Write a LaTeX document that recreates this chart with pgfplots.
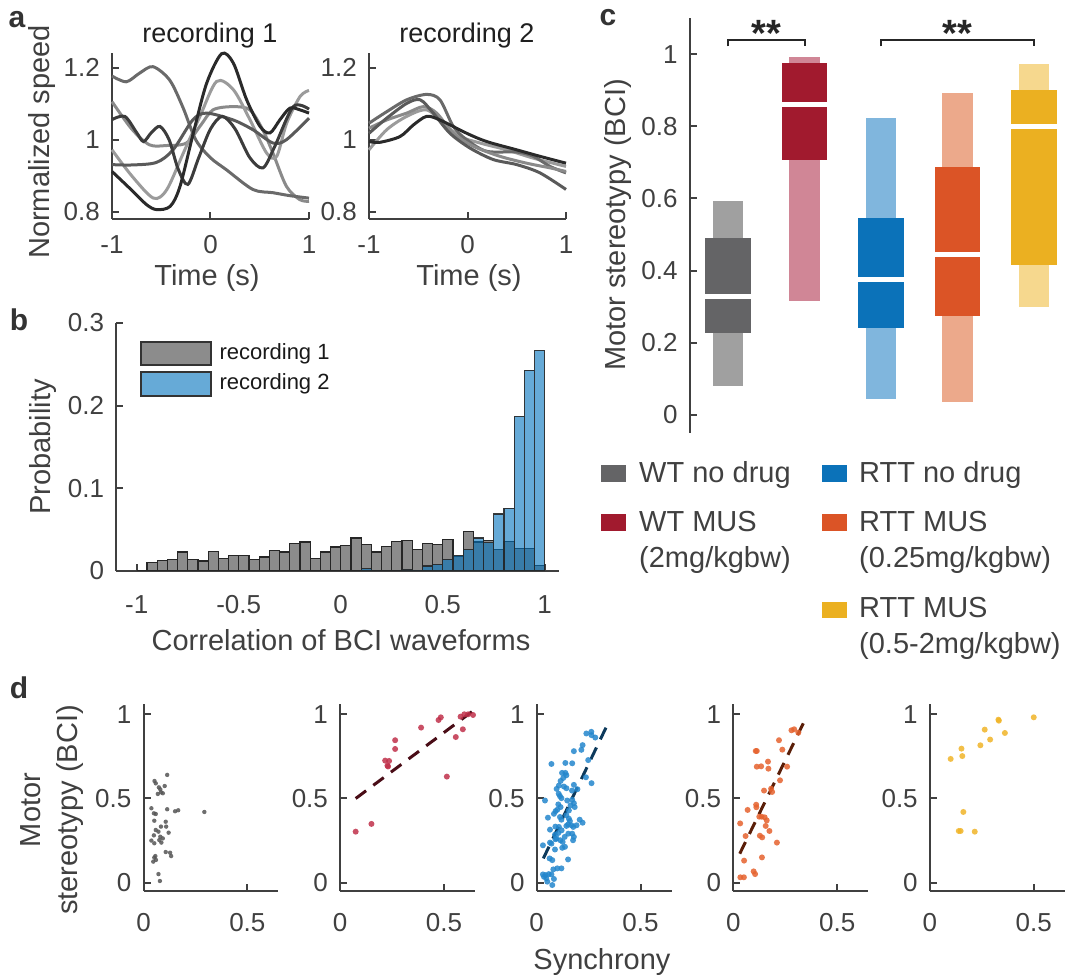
\documentclass[border=0pt]{standalone}
\usepackage{pgfplots}
\pgfplotsset{compat=1.18}
\usepackage{fontspec}
\setmainfont{Liberation Sans}

\definecolor{axgray}{HTML}{404040}
\definecolor{titlec}{HTML}{1F1F1F}
\definecolor{histgray}{HTML}{8C8C8C}
\definecolor{histblue}{HTML}{0072BD}
\definecolor{WTd}{HTML}{646466}\definecolor{WTl}{HTML}{A0A0A0}
\definecolor{WMd}{HTML}{A11A2E}\definecolor{WMl}{HTML}{D08696}
\definecolor{RNd}{HTML}{0B72B9}\definecolor{RNl}{HTML}{80B6DD}
\definecolor{RAd}{HTML}{DB5426}\definecolor{RAl}{HTML}{ECA98B}
\definecolor{RBd}{HTML}{EBB021}\definecolor{RBl}{HTML}{F6D88E}
\definecolor{sgray}{HTML}{555555}
\definecolor{sred}{HTML}{C0304A}
\definecolor{sblue}{HTML}{2386CC}
\definecolor{sorange}{HTML}{E5622E}
\definecolor{syellow}{HTML}{F0B428}
\definecolor{lred}{HTML}{4A0D17}
\definecolor{lblue}{HTML}{0D3A5C}
\definecolor{lorange}{HTML}{5A1E08}
\definecolor{gA}{HTML}{6A6A6A}\definecolor{gB}{HTML}{2A2A2A}
\definecolor{gC}{HTML}{9B9B9B}\definecolor{gD}{HTML}{8A8A8A}
\definecolor{gE}{HTML}{3C3C3C}\definecolor{gF}{HTML}{5A5A5A}

\newcommand{\tickfont}{\fontsize{26}{30}\selectfont}
\newcommand{\labfont}{\fontsize{29}{37}\selectfont}
\newcommand{\panfont}{\fontsize{30}{30}\selectfont\bfseries}

\pgfplotsset{
  base/.style={
    scale only axis, axis lines*=left,
    axis line style={-, draw=axgray, line width=2pt},
    tick style={draw=axgray, line width=2pt},
    tick align=inside, major tick length=7pt,
    enlargelimits=false,
    tick label style={font=\tickfont, text=axgray, inner sep=0pt},
    yticklabel style={anchor=east, xshift=-12pt},
    xticklabel style={anchor=north},
    anchor=south west,
  },
  pd/.style={base, width=135pt, height=186.9pt, xmin=0, xmax=0.65, ymin=-0.05, ymax=1.06,
    xtick={0,0.5}, xticklabels={0,0.5}, ytick={0,0.5,1}, yticklabels={0,0.5,1},
    xticklabel style={yshift=-22pt}, clip=false},
  dots/.style={only marks, color=#1, mark=*, mark size=3pt, mark options={draw opacity=0, fill=#1, fill opacity=0.85, line width=0pt}},
  fitl/.style={line width=3pt, color=#1, dash pattern=on 13pt off 9pt},
  spd/.style={smooth, line width=3pt, color=#1},
}

\begin{document}
\begin{tikzpicture}[x=1pt,y=1pt]
\path[use as bounding box] (0,0) rectangle (1069,980);

% ---------------- panel a, recording 1
\begin{axis}[base, at={(112pt,761pt)}, width=197pt, height=166pt,
  xmin=-1, xmax=1, ymin=0.78, ymax=1.241,
  xtick={-1,0,1}, xticklabels={-1,0,1}, ytick={0.8,1,1.2}, yticklabels={0.8,1,1.2},
  xticklabel style={yshift=-16pt}, clip=false]
\addplot[spd=gD] coordinates {(-1,1.106) (-0.8,1.03) (-0.62,0.986) (-0.45,0.984) (-0.245,0.991) (-0.1,1.04) (0.025,1.083) (0.228,1.092) (0.4,1.083) (0.53,1.028) (0.634,0.963) (0.77,0.871) (0.905,0.834) (1,0.829)};
\addplot[spd=gC] coordinates {(-1,0.972) (-0.8,0.9) (-0.58,0.838) (-0.445,0.861) (-0.276,0.963) (-0.107,1.065) (0.062,1.162) (0.232,1.139) (0.40,1.056) (0.57,0.963) (0.672,0.954) (0.773,1.046) (0.909,1.12) (1,1.137)};
\addplot[spd=gA] coordinates {(-1,1.177) (-0.855,1.161) (-0.72,1.185) (-0.584,1.203) (-0.415,1.166) (-0.28,1.09) (-0.15,1.0) (0,0.95) (0.16,0.917) (0.43,0.862) (0.634,0.853) (0.8,0.845) (1,0.838)};
\addplot[spd=gF] coordinates {(-1,0.931) (-0.8,0.93) (-0.55,0.937) (-0.38,0.972) (-0.18,1.055) (-0.04,1.074) (0.23,1.055) (0.43,1.028) (0.634,0.991) (0.77,1.0) (1,1.06)};
\addplot[spd=gE] coordinates {(-1,1.056) (-0.87,1.065) (-0.75,1.02) (-0.68,0.995) (-0.6,1.02) (-0.513,1.037) (-0.42,1.0) (-0.33,0.92) (-0.23,0.876) (-0.12,0.95) (0,1.03) (0.12,1.065) (0.25,1.03) (0.4,0.95) (0.533,0.922) (0.65,0.98) (0.84,1.092) (1,1.085)};
\addplot[spd=gB] coordinates {(-1,0.912) (-0.8,0.86) (-0.65,0.82) (-0.547,0.806) (-0.41,0.815) (-0.31,0.87) (-0.174,1.019) (-0.039,1.157) (0.113,1.239) (0.232,1.213) (0.367,1.111) (0.503,1.037) (0.604,1.019) (0.706,1.056) (0.807,1.088) (0.909,1.083) (1,1.074)};
\end{axis}

% ---------------- panel a, recording 2
\begin{axis}[base, at={(369pt,761pt)}, width=197pt, height=166pt,
  xmin=-1, xmax=1, ymin=0.78, ymax=1.241,
  xtick={-1,0,1}, xticklabels={-1,0,1}, ytick={0.8,1,1.2}, yticklabels={0.8,1,1.2},
  xticklabel style={yshift=-16pt}, clip=false]
\addplot[spd=gC] coordinates {(-1,0.972) (-0.82,1.028) (-0.617,1.065) (-0.415,1.083) (-0.245,1.046) (-0.076,1.009) (0.127,0.991) (0.398,0.972) (0.668,0.949) (1,0.926)};
\addplot[spd=gA] coordinates {(-1,1.046) (-0.82,1.078) (-0.617,1.111) (-0.415,1.126) (-0.28,1.111) (-0.144,1.037) (-0.008,1.0) (0.195,0.968) (0.5,0.966) (0.668,0.954) (0.838,0.926) (1,0.908)};
\addplot[spd=gD] coordinates {(-1,1.032) (-0.82,1.055) (-0.617,1.074) (-0.448,1.092) (-0.313,1.074) (-0.144,1.018) (0.059,0.982) (0.33,0.954) (0.6,0.935) (0.838,0.922) (1,0.912)};
\addplot[spd=gF] coordinates {(-1,1.018) (-0.82,1.06) (-0.617,1.101) (-0.48,1.111) (-0.347,1.074) (-0.178,1.018) (0.025,0.977) (0.262,0.945) (0.5,0.931) (0.736,0.908) (1,0.862)};
\addplot[spd=gB] coordinates {(-1,0.995) (-0.888,0.993) (-0.685,1.009) (-0.55,1.041) (-0.415,1.065) (-0.28,1.055) (-0.008,1.018) (0.195,0.995) (0.5,0.972) (0.736,0.954) (1,0.935)};
\end{axis}

% ---------------- panel b
\begin{axis}[base, at={(116.3pt,409pt)}, width=442.7pt, height=248pt,
  xmin=-1.1, xmax=1.07, ymin=0, ymax=0.3,
  xtick={-1,-0.5,0,0.5,1}, xticklabels={-1,-0.5,0,0.5,1},
  ytick={0,0.1,0.2,0.3}, yticklabels={0,0.1,0.2,0.3},
  xticklabel style={yshift=-24pt}]
\addplot[ybar interval, fill=histgray, draw=black!85, line width=1.2pt] table[row sep=\\] {
x y\\ -1.00 0\\ -0.95 0.010\\ -0.90 0.013\\ -0.85 0.014\\ -0.80 0.023\\ -0.75 0.014\\ -0.70 0.012\\ -0.65 0.024\\ -0.60 0.015\\ -0.55 0.0185\\ -0.50 0.0185\\ -0.45 0.014\\ -0.40 0.017\\ -0.35 0.025\\ -0.30 0.023\\ -0.25 0.033\\ -0.20 0.035\\ -0.15 0.015\\ -0.10 0.023\\ -0.05 0.029\\ 0.00 0.031\\ 0.05 0.040\\ 0.10 0.032\\ 0.15 0.023\\ 0.20 0.030\\ 0.25 0.036\\ 0.30 0.037\\ 0.35 0.026\\ 0.40 0.033\\ 0.45 0.032\\ 0.50 0.038\\ 0.55 0.018\\ 0.60 0.048\\ 0.65 0.035\\ 0.70 0.037\\ 0.75 0.026\\ 0.80 0.036\\ 0.85 0.027\\ 0.90 0.027\\ 0.95 0.007\\ 1.00 0\\
};
\addplot[ybar interval, fill=histblue, fill opacity=0.6, draw=black!85, draw opacity=0.9, line width=1.2pt] table[row sep=\\] {
x y\\ 0.10 0.003\\ 0.15 0\\ 0.20 0\\ 0.25 0\\ 0.30 0.002\\ 0.35 0.001\\ 0.40 0.006\\ 0.45 0.008\\ 0.50 0.014\\ 0.55 0.019\\ 0.60 0.026\\ 0.65 0.040\\ 0.70 0.034\\ 0.75 0.069\\ 0.80 0.076\\ 0.85 0.187\\ 0.90 0.243\\ 0.95 0.267\\ 1.00 0\\
};
\end{axis}

% ---------------- panel c
\begin{axis}[base, axis x line=none, axis y line*=left, at={(689.75pt,547pt)}, width=382.5pt, height=415pt,
  xmin=0.5, xmax=5.5, ymin=-0.05, ymax=1.1,
  ytick={0,0.2,0.4,0.6,0.8,1}, yticklabels={0,0.2,0.4,0.6,0.8,1}, clip=false]
% WT no drug
\addplot[fill=WTl, draw=none] coordinates {(0.8,0.081) (1.2,0.081) (1.2,0.593) (0.8,0.593)};
\addplot[fill=WTd, draw=none] coordinates {(0.7,0.228) (1.3,0.228) (1.3,0.491) (0.7,0.491)};
\addplot[white, line width=5pt] coordinates {(0.7,0.329) (1.3,0.329)};
% WT MUS
\addplot[fill=WMl, draw=none] coordinates {(1.8,0.316) (2.2,0.316) (2.2,0.993) (1.8,0.993)};
\addplot[fill=WMd, draw=none] coordinates {(1.7,0.707) (2.3,0.707) (2.3,0.976) (1.7,0.976)};
\addplot[white, line width=5pt] coordinates {(1.7,0.859) (2.3,0.859)};
% RTT no drug
\addplot[fill=RNl, draw=none] coordinates {(2.8,0.043) (3.2,0.043) (3.2,0.823) (2.8,0.823)};
\addplot[fill=RNd, draw=none] coordinates {(2.7,0.242) (3.3,0.242) (3.3,0.546) (2.7,0.546)};
\addplot[white, line width=5pt] coordinates {(2.7,0.376) (3.3,0.376)};
% RTT MUS 0.25
\addplot[fill=RAl, draw=none] coordinates {(3.8,0.037) (4.2,0.037) (4.2,0.893) (3.8,0.893)};
\addplot[fill=RAd, draw=none] coordinates {(3.7,0.275) (4.3,0.275) (4.3,0.688) (3.7,0.688)};
\addplot[white, line width=5pt] coordinates {(3.7,0.445) (4.3,0.445)};
% RTT MUS 0.5-2
\addplot[fill=RBl, draw=none] coordinates {(4.8,0.300) (5.2,0.300) (5.2,0.973) (4.8,0.973)};
\addplot[fill=RBd, draw=none] coordinates {(4.7,0.416) (5.3,0.416) (5.3,0.901) (4.7,0.901)};
\addplot[white, line width=5pt] coordinates {(4.7,0.800) (5.3,0.800)};
% significance
\addplot[color=black!85, line width=2pt] coordinates {(1,1.021) (1,1.038) (2,1.038) (2,1.021)};
\addplot[color=black!85, line width=2pt] coordinates {(3,1.021) (3,1.038) (5,1.038) (5,1.021)};
\node[font=\fontsize{38}{38}\selectfont\bfseries, text=black!85, anchor=base] at (axis cs:1.5,1.02) {**};
\node[font=\fontsize{38}{38}\selectfont\bfseries, text=black!85, anchor=base] at (axis cs:4,1.02) {**};
\end{axis}

% ---------------- panel d
\begin{axis}[pd, at={(143.5pt,88.9pt)}]
\addplot[dots=sgray, mark size=2.2pt] coordinates {(0.114,0.640) (0.053,0.604) (0.059,0.590) (0.102,0.574) (0.074,0.566) (0.081,0.554) (0.069,0.527) (0.084,0.537) (0.093,0.531) (0.038,0.442) (0.114,0.436) (0.152,0.424) (0.167,0.430) (0.293,0.420) (0.059,0.408) (0.050,0.412) (0.052,0.368) (0.107,0.362) (0.084,0.333) (0.109,0.333) (0.059,0.313) (0.072,0.303) (0.121,0.297) (0.050,0.281) (0.081,0.273) (0.093,0.263) (0.038,0.250) (0.052,0.234) (0.086,0.238) (0.076,0.253) (0.107,0.182) (0.128,0.178) (0.133,0.158) (0.057,0.158) (0.052,0.149) (0.047,0.125) (0.060,0.135) (0.072,0.051) (0.079,0.010)};
\end{axis}
\begin{axis}[pd, at={(340.1pt,88.9pt)}]
\addplot[fitl=lred] coordinates {(0.075,0.5) (0.645,1.025)};
\addplot[dots=sred] coordinates {(0.075,0.303) (0.151,0.349) (0.217,0.725) (0.236,0.723) (0.228,0.695) (0.231,0.690) (0.265,0.846) (0.265,0.794) (0.39,0.921) (0.474,0.966) (0.485,0.982) (0.514,0.630) (0.557,0.865) (0.58,0.986) (0.598,1.0) (0.591,0.911) (0.616,1.0) (0.64,0.996)};
\end{axis}
\begin{axis}[pd, at={(536.7pt,88.9pt)}]
\addplot[dots=sblue] coordinates {(0.239,0.886) (0.263,0.896) (0.264,0.876) (0.282,0.862) (0.221,0.817) (0.215,0.789) (0.179,0.781) (0.248,0.728) (0.071,0.705) (0.138,0.711) (0.171,0.709) (0.122,0.652) (0.138,0.652) (0.143,0.638) (0.237,0.626) (0.115,0.604) (0.264,0.591) (0.131,0.571) (0.143,0.561) (0.179,0.581) (0.096,0.557) (0.170,0.547) (0.106,0.528) (0.112,0.514) (0.119,0.502) (0.040,0.488) (0.147,0.488) (0.171,0.492) (0.179,0.472) (0.104,0.465) (0.115,0.449) (0.183,0.449) (0.163,0.459) (0.091,0.425) (0.083,0.409) (0.099,0.433) (0.155,0.429) (0.143,0.400) (0.054,0.386) (0.112,0.390) (0.119,0.374) (0.155,0.380) (0.160,0.366) (0.151,0.346) (0.207,0.374) (0.221,0.356) (0.192,0.341) (0.090,0.333) (0.107,0.331) (0.167,0.341) (0.176,0.331) (0.143,0.337) (0.120,0.311) (0.104,0.295) (0.088,0.285) (0.152,0.291) (0.171,0.291) (0.135,0.272) (0.096,0.262) (0.114,0.252) (0.125,0.242) (0.090,0.258) (0.179,0.272) (0.175,0.252) (0.123,0.207) (0.136,0.213) (0.030,0.222) (0.071,0.232) (0.064,0.238) (0.088,0.197) (0.062,0.144) (0.075,0.134) (0.151,0.138) (0.080,0.079) (0.099,0.085) (0.119,0.085) (0.030,0.049) (0.043,0.045) (0.058,0.051) (0.071,0.049) (0.051,0.006) (0.046,0.026) (0.083,0.022) (0.075,-0.014) (0.035,0.035) (0.107,0.577) (0.128,0.622) (0.196,0.555) (0.064,0.315)};
\addplot[fitl=lblue] coordinates {(0.032,0.144) (0.343,0.945)};
\end{axis}
\begin{axis}[pd, at={(733.3pt,88.9pt)}]
\addplot[dots=sorange] coordinates {(0.034,0.032) (0.051,0.032) (0.052,0.131) (0.033,0.352) (0.059,0.277) (0.069,0.432) (0.098,0.067) (0.105,0.051) (0.108,0.782) (0.113,0.782) (0.113,0.689) (0.134,0.691) (0.110,0.463) (0.111,0.448) (0.125,0.392) (0.136,0.392) (0.151,0.388) (0.128,0.279) (0.139,0.269) (0.138,0.150) (0.148,0.547) (0.156,0.337) (0.161,0.370) (0.167,0.719) (0.169,0.677) (0.174,0.307) (0.182,0.558) (0.187,0.539) (0.210,0.238) (0.220,0.846) (0.225,0.608) (0.236,0.790) (0.259,0.689) (0.280,0.905) (0.293,0.911) (0.313,0.891)};
\addplot[fitl=lorange] coordinates {(0.031,0.172) (0.352,0.984)};
\end{axis}
\begin{axis}[pd, at={(929.9pt,88.9pt)}]
\addplot[dots=syellow] coordinates {(0.100,0.735) (0.152,0.796) (0.156,0.752) (0.161,0.420) (0.139,0.307) (0.148,0.307) (0.216,0.303) (0.243,0.816) (0.264,0.909) (0.290,0.850) (0.330,0.968) (0.332,0.962) (0.361,0.889) (0.500,0.982)};
\end{axis}

% ---------------- text
\node[font=\panfont, text=black!80] at (17,960) {a};
\node[font=\panfont, text=black!80] at (19,660) {b};
\node[font=\panfont, text=black!80] at (608,962) {c};
\node[font=\panfont, text=black!80] at (19,292) {d};

\node[font=\fontsize{27}{30}\selectfont, text=titlec] at (210,944) {recording 1};
\node[font=\fontsize{27}{30}\selectfont, text=titlec] at (467,944) {recording 2};
\node[font=\labfont, text=axgray, rotate=90] at (42.5,838) {Normalized speed};
\node[font=\labfont, text=axgray] at (207,702) {Time (s)};
\node[font=\labfont, text=axgray] at (469,702) {Time (s)};

\node[font=\labfont, text=axgray, rotate=90] at (43,533) {Probability};
\node[font=\labfont, text=axgray] at (341,340) {Correlation of BCI waveforms};
\filldraw[fill=histgray, draw=black!80, line width=1.2pt] (141,615) rectangle (211,638);
\filldraw[fill=histblue, fill opacity=0.6, draw=black!80, line width=1.2pt] (141,584) rectangle (211,608);
\node[font=\fontsize{22}{26}\selectfont, text=black!90, anchor=west] at (216,626.5) {recording 1};
\node[font=\fontsize{22}{26}\selectfont, text=black!90, anchor=west] at (216,596) {recording 2};

\node[font=\labfont, text=axgray, rotate=90] at (618,755) {Motor stereotypy (BCI)};
\fill[WTd] (600.7,498.3) rectangle (626,515);
\fill[WMd] (600.7,449.3) rectangle (626,466);
\fill[RNd] (822.3,498.3) rectangle (846.7,515);
\fill[RAd] (822.3,449.3) rectangle (846.7,466);
\fill[RBd] (822.3,362.3) rectangle (846.7,378.3);
\begin{scope}[every node/.style={font=\labfont, text=axgray, anchor=base west, inner sep=0pt}]
\node at (639,497.3) {WT no drug};
\node at (639,448) {WT MUS};
\node at (639,412) {(2mg/kgbw)};
\node at (859,497.3) {RTT no drug};
\node at (859,448) {RTT MUS};
\node at (859,412) {(0.25mg/kgbw)};
\node at (859,362.3) {RTT MUS};
\node at (859,326.7) {(0.5-2mg/kgbw)};
\end{scope}

\node[font=\labfont, text=axgray, rotate=90, align=center] at (52,170) {Motor\\stereotypy (BCI)};
\node[font=\labfont, text=axgray] at (602,18) {Synchrony};
\end{tikzpicture}
\end{document}
